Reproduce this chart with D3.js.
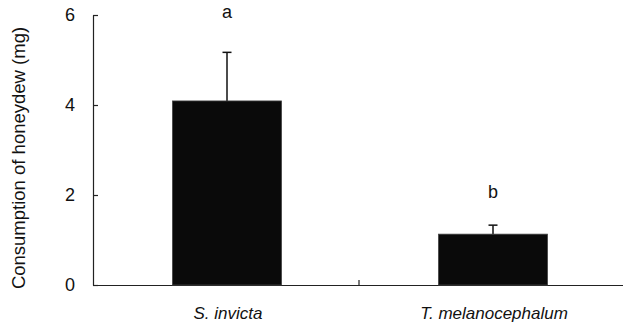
<!DOCTYPE html>
<html>
<head>
<meta charset="utf-8">
<script src="https://cdn.jsdelivr.net/npm/d3@7"></script>
<style>
  body { margin: 0; background: #fff; }
  svg { display: block; font-family: "Liberation Sans", Arial, sans-serif; }
</style>
</head>
<body>
<div id="chart"></div>
<script>
const species = ["S. invicta", "T. melanocephalum"];
const consumption = [4.09, 1.13];
const errors = [1.08, 0.2];
const letters = ["a", "b"];
const letterLevels = [5.93, 1.93];
const yTicks = [0, 2, 4, 6];

const width = 623;
const height = 327;
const margin = { top: 15, right: -2, bottom: 42, left: 93 };

const svg = d3.select("#chart").append("svg")
    .attr("width", width)
    .attr("height", height);

const x = d3.scaleBand()
    .domain(species)
    .range([margin.left, width - margin.right])
    .padding(0);

const y = d3.scaleLinear()
    .domain([0, 6])
    .range([height - margin.bottom, margin.top]);

const barW = x.bandwidth() * 0.41;

// y axis, ticks point inward
const yAxis = svg.append("g")
    .attr("transform", `translate(${margin.left},0)`)
    .call(d3.axisLeft(y).tickValues(yTicks).tickFormat(d3.format("d"))
        .tickSize(-5).tickPadding(18).tickSizeOuter(0));
yAxis.select(".domain").attr("stroke", "#222").attr("stroke-width", 1.2);
yAxis.selectAll(".tick line").attr("stroke", "#222").attr("stroke-width", 1.2);
yAxis.selectAll(".tick text").attr("font-size", 18).attr("fill", "#111")
    .attr("font-family", "Liberation Sans, Arial, sans-serif");

// x axis
const xAxis = svg.append("g")
    .attr("transform", `translate(0,${y(0)})`)
    .call(d3.axisBottom(x).tickSize(0).tickSizeOuter(0).tickPadding(22));
xAxis.select(".domain").attr("stroke", "#222").attr("stroke-width", 1.2);
xAxis.selectAll(".tick text").attr("font-size", 17).attr("font-style", "italic")
    .attr("fill", "#111").attr("font-family", "Liberation Sans, Arial, sans-serif")
    .attr("dx", 2);

// separator tick between categories
xAxis.append("line")
    .attr("x1", x(species[1])).attr("x2", x(species[1]))
    .attr("y1", 0).attr("y2", -5)
    .attr("stroke", "#222").attr("stroke-width", 1.2);

// axis title
svg.append("text")
    .attr("transform", `translate(25,${(y(0) + y(6)) / 2 + 8}) rotate(-90)`)
    .attr("text-anchor", "middle")
    .attr("font-size", 18.5)
    .attr("fill", "#111")
    .text("Consumption of honeydew (mg)");

const cx = d => x(d) + x.bandwidth() / 2 + 1;

// error bars
svg.append("g")
    .selectAll("g")
    .data(species)
    .join("g")
    .each(function (d, i) {
        const g = d3.select(this);
        const top = y(consumption[i] + errors[i]);
        g.append("line")
            .attr("x1", cx(d)).attr("x2", cx(d))
            .attr("y1", y(consumption[i])).attr("y2", top)
            .attr("stroke", "#111").attr("stroke-width", 1.5);
        g.append("line")
            .attr("x1", cx(d) - 4.5).attr("x2", cx(d) + 4.5)
            .attr("y1", top).attr("y2", top)
            .attr("stroke", "#111").attr("stroke-width", 1.5);
    });

// bars
svg.append("g")
    .selectAll("rect")
    .data(species)
    .join("rect")
    .attr("x", d => cx(d) - barW / 2)
    .attr("width", barW)
    .attr("y", (d, i) => y(consumption[i]))
    .attr("height", (d, i) => y(0) - y(consumption[i]))
    .attr("fill", "#0a0a0a")
    .attr("stroke", "#444")
    .attr("stroke-width", 0.8);

// significance letters
svg.append("g")
    .selectAll("text")
    .data(species)
    .join("text")
    .attr("x", d => cx(d))
    .attr("y", (d, i) => y(letterLevels[i]))
    .attr("text-anchor", "middle")
    .attr("font-size", 18)
    .attr("fill", "#111")
    .text((d, i) => letters[i]);
</script>
</body>
</html>
